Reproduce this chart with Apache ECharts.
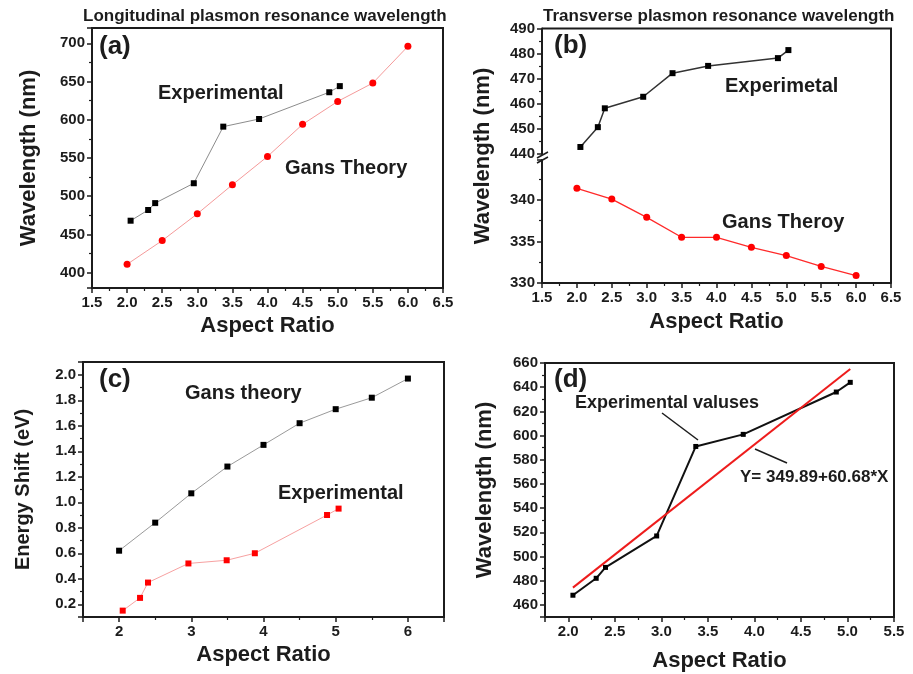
<!DOCTYPE html>
<html lang="en">
<head>
  <meta charset="UTF-8">
  <title>plasmon resonance</title>
  <style>
    html, body { margin: 0; padding: 0; background: #fff; }
    #chart { width: 913px; height: 674px; }
  </style>
</head>
<body>
  <div id="chart"></div>
  <script src="https://cdn.jsdelivr.net/npm/echarts@6/dist/echarts.min.js"></script>
  <script>
    // aspect ratios
    const ratioExp = [2.05, 2.3, 2.4, 2.95, 3.37, 3.88, 4.88, 5.03]
    const ratioGans = [2.0, 2.5, 3.0, 3.5, 4.0, 4.5, 5.0, 5.5, 6.0]
    const ratioShiftExp = [2.05, 2.29, 2.4, 2.96, 3.49, 3.88, 4.88, 5.04]

    // (a) longitudinal wavelength (nm)
    const longExp = [468, 482, 491, 517, 591, 601, 636, 644]
    const longGans = [411, 442, 477, 515, 552, 594, 624, 648, 696]

    // (b) transverse wavelength (nm)
    const transExp = [442.8, 450.7, 458.2, 462.8, 472.2, 475.1, 478.2, 481.4]
    const transGans = [341.4, 340.1, 337.9, 335.5, 335.5, 334.3, 333.3, 332.0, 330.9]

    // (c) energy shift (eV)
    const shiftGans = [0.62, 0.84, 1.07, 1.28, 1.45, 1.62, 1.73, 1.82, 1.97]
    const shiftExp = [0.15, 0.25, 0.37, 0.52, 0.545, 0.60, 0.90, 0.95]

    // (d) linear fit end points
    const fitX = [2.05, 5.03]
    const fitY = [474.3, 655.1]

    const chart = echarts.init(document.getElementById('chart'))
    const FONT = '"Liberation Sans", Arial, sans-serif'
    const INK = '#1c1c1c'

    const zip = (xs, ys) => xs.map((x, i) => [x, ys[i]])
    const onStep = (v, step) => Math.abs(v / step - Math.round(v / step)) < 1e-6

    function valueAxis(gridIndex, min, max, fmt, extra) {
      return Object.assign({
        type: 'value',
        gridIndex,
        min,
        max,
        axisLine: { show: true, onZero: false, lineStyle: { color: INK, width: 2 } },
        axisTick: { show: true, length: 5, lineStyle: { color: INK, width: 1.5 } },
        minorTick: { show: true, splitNumber: 2, length: 3, lineStyle: { color: INK, width: 1.2 } },
        splitLine: { show: false },
        axisLabel: {
          color: INK, fontFamily: FONT, fontWeight: 'bold', fontSize: 15, margin: 7,
          formatter: fmt
        },
        nameLocation: 'middle',
        nameTextStyle: { color: INK, fontFamily: FONT, fontWeight: 'bold', fontSize: 22 }
      }, extra)
    }

    function line(name, xi, yi, data, color, width, symbol, symColor, size) {
      return {
        name, type: 'line', xAxisIndex: xi, yAxisIndex: yi, data,
        lineStyle: { color, width },
        symbol, symbolSize: size,
        itemStyle: { color: symColor },
        showSymbol: symbol !== 'none',
        animation: false
      }
    }

    function txt(x, y, text, size, extra) {
      return Object.assign({
        type: 'text', x, y,
        style: {
          text, fill: INK, font: 'bold ' + size + 'px ' + FONT,
          align: 'left', verticalAlign: 'middle'
        }
      }, extra)
    }

    const gridStyle = { show: true, borderColor: INK, borderWidth: 2 }

    const option = {
      backgroundColor: '#fff',
      animation: false,
      grid: [
        Object.assign({ left: 92, top: 28, width: 351, height: 260 }, gridStyle),
        { left: 542, top: 28.5, width: 349, height: 125.5 },
        { left: 542, top: 160, width: 349, height: 123 },
        Object.assign({ left: 83, top: 362, width: 361, height: 255 }, gridStyle),
        Object.assign({ left: 545, top: 363, width: 349, height: 254 }, gridStyle)
      ],
      xAxis: [
        valueAxis(0, 1.5, 6.5, v => v.toFixed(1), { interval: 0.5, name: 'Aspect Ratio', nameGap: 27 }),
        valueAxis(1, 1.5, 6.5, v => v.toFixed(1), { interval: 0.5, show: false }),
        valueAxis(2, 1.5, 6.5, v => v.toFixed(1), { interval: 0.5, name: 'Aspect Ratio', nameGap: 28 }),
        valueAxis(3, 1.5, 6.5, v => onStep(v, 1) ? v.toFixed(0) : '', { splitNumber: 5, name: 'Aspect Ratio', nameGap: 27 }),
        valueAxis(4, 1.75, 5.5, v => onStep(v, 0.5) ? v.toFixed(1) : '', { splitNumber: 8, name: 'Aspect Ratio', nameGap: 33 })
      ],
      yAxis: [
        valueAxis(0, 380, 720, v => onStep(v, 50) ? v : '', { splitNumber: 7, name: 'Wavelength (nm)', nameGap: 52 }),
        valueAxis(1, 440, 490, v => v, { interval: 10 }),
        valueAxis(2, 330, 344.8, v => onStep(v, 5) ? v : '', { interval: 5 }),
        valueAxis(3, 0.1, 2.1, v => onStep(v, 0.2) ? v.toFixed(1) : '', {
          splitNumber: 10, name: 'Energy Shift (eV)', nameGap: 50,
          nameTextStyle: { color: INK, fontFamily: FONT, fontWeight: 'bold', fontSize: 20 }
        }),
        valueAxis(4, 450, 660, v => onStep(v, 20) ? v : '', { splitNumber: 10, name: 'Wavelength (nm)', nameGap: 49 })
      ],
      series: [
        line('Experimental', 0, 0, zip(ratioExp, longExp), '#8c8c8c', 1, 'rect', '#000', 6),
        line('Gans Theory', 0, 0, zip(ratioGans, longGans), '#f59a9a', 1, 'circle', '#ff0000', 7),
        line('Experimetal', 1, 1, zip(ratioExp, transExp), '#333', 1.5, 'rect', '#000', 6),
        line('Gans Theroy', 2, 2, zip(ratioGans, transGans), '#ff2a2a', 1.3, 'circle', '#ff0000', 7),
        line('Gans theory', 3, 3, zip(ratioGans, shiftGans), '#9a9a9a', 1, 'rect', '#000', 6),
        line('Experimental', 3, 3, zip(ratioShiftExp, shiftExp), '#f7a1a1', 1, 'rect', '#ff0000', 6),
        line('Experimental valuses', 4, 4, zip(ratioExp, longExp), '#111', 2, 'rect', '#000', 5),
        line('Fit', 4, 4, zip(fitX, fitY), '#ee1c1c', 2, 'none', '#ee1c1c', 0)
      ],
      graphic: [
        // titles
        txt(83, 16, 'Longitudinal plasmon resonance wavelength', 17),
        txt(543, 16, 'Transverse plasmon resonance wavelength', 17),
        // panel tags
        txt(99, 47, '(a)', 26),
        txt(554, 46, '(b)', 26),
        txt(99, 380, '(c)', 26),
        txt(554, 380, '(d)', 26),
        // series labels
        txt(158, 93, 'Experimental', 20),
        txt(285, 168, 'Gans Theory', 20),
        txt(725, 86, 'Experimetal', 20),
        txt(722, 222, 'Gans Theroy', 20),
        txt(185, 393, 'Gans theory', 20),
        txt(278, 493, 'Experimental', 20),
        txt(575, 403, 'Experimental valuses', 18),
        txt(740, 477, 'Y= 349.89+60.68*X', 17),
        // (b) y title across both parts
        txt(483, 156, 'Wavelength (nm)', 22, { rotation: Math.PI / 2, style: {
          text: 'Wavelength (nm)', fill: INK, font: 'bold 22px ' + FONT, align: 'center', verticalAlign: 'middle'
        } }),
        // (b) frame top and right
        { type: 'polyline', shape: { points: [[542, 28.5], [891, 28.5], [891, 283]] }, style: { stroke: INK, lineWidth: 2, fill: null } },
        // (b) axis break marks
        { type: 'line', shape: { x1: 537, y1: 158, x2: 548, y2: 152 }, style: { stroke: INK, lineWidth: 1.5 } },
        { type: 'line', shape: { x1: 537, y1: 163, x2: 548, y2: 157 }, style: { stroke: INK, lineWidth: 1.5 } },
        // (d) pointers
        { type: 'line', shape: { x1: 662, y1: 413, x2: 698, y2: 440 }, style: { stroke: INK, lineWidth: 1.5 } },
        { type: 'line', shape: { x1: 755, y1: 449, x2: 787, y2: 463 }, style: { stroke: INK, lineWidth: 1.5 } }
      ]
    }

    chart.setOption(option)
  </script>
</body>
</html>
